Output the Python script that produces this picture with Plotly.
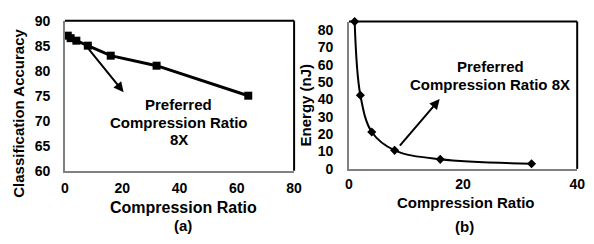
import plotly.graph_objects as go

# Data
ratio_a = [1, 2, 4, 8, 16, 32, 64]
accuracy = [87, 86.5, 86, 85, 83, 81, 75]
ratio_b = [1, 2, 4, 8, 16, 32]
energy = [85, 42.5, 21.3, 10.7, 5.5, 3.0]

xticks_a = [0, 20, 40, 60, 80]
yticks_a = [60, 65, 70, 75, 80, 85, 90]
xticks_b = [0, 20, 40]
yticks_b = [0, 10, 20, 30, 40, 50, 60, 70, 80]

# The page body has an 8px default margin, so the figure is drawn 8px smaller
OFF = 8
W, H = 594 - OFF, 244 - OFF
FONT = "Liberation Sans, Arial, sans-serif"

def px(x):
    return (x - OFF) / W

def py(y):
    return (H - (y - OFF)) / H

fig = go.Figure()
fig.add_trace(go.Scatter(x=ratio_a, y=accuracy, mode="lines+markers",
                         line=dict(color="black", width=3),
                         marker=dict(symbol="square", size=8, color="black"),
                         xaxis="x", yaxis="y", showlegend=False, cliponaxis=False))
fig.add_trace(go.Scatter(x=ratio_b, y=energy, mode="lines+markers",
                         line=dict(color="black", width=2, shape="spline", smoothing=1.0),
                         marker=dict(symbol="diamond", size=7, color="black"),
                         xaxis="x2", yaxis="y2", showlegend=False, cliponaxis=False))

tickfont = dict(family=FONT, size=14, color="black", weight="bold")
axis_common = dict(showgrid=False, zeroline=False, showline=True, linecolor="#808080",
                   linewidth=1.5, ticks="", mirror=False, ticklabeloverflow="allow",
                   tickfont=tickfont)

fig.update_layout(
    width=W, height=H, margin=dict(l=0, r=0, t=0, b=0),
    paper_bgcolor="white", plot_bgcolor="white",
    xaxis=dict(domain=[px(62), px(296)], range=[0, 80], tickvals=xticks_a,
               anchor="y", ticklabelstandoff=4, **axis_common),
    yaxis=dict(domain=[py(174), py(13)], range=[60, 90], tickvals=yticks_a,
               anchor="x", ticklabelstandoff=10, **axis_common),
    xaxis2=dict(domain=[px(352), px(585)], range=[0, 40], tickvals=xticks_b,
                anchor="y2", ticklabelstandoff=2, **axis_common),
    yaxis2=dict(domain=[py(172), py(14)], range=[0, 85], tickvals=yticks_b,
                anchor="x2", ticklabelstandoff=11, **axis_common),
)

# Black top/right frame lines
for xa, ya in (("x", "y"), ("x2", "y2")):
    fig.add_shape(type="line", xref=f"{xa} domain", yref=f"{ya} domain",
                  x0=0, x1=1, y0=1, y1=1, line=dict(color="black", width=2))
    fig.add_shape(type="line", xref=f"{xa} domain", yref=f"{ya} domain",
                  x0=1, x1=1, y0=0, y1=1, line=dict(color="black", width=2))

f15 = dict(family=FONT, size=15, color="black", weight="bold")
f16 = dict(family=FONT, size=16, color="black", weight="bold")

def label(x, y, text, font, angle=0):
    return dict(x=px(x), y=py(y), xref="paper", yref="paper", showarrow=False,
                xanchor="center", yanchor="middle", text=text, font=font,
                textangle=angle, align="center")

annotations = [
    # Arrows
    dict(x=20.5, y=75.7, ax=7.9, ay=84.6, xref="x", yref="y", axref="x", ayref="y",
         showarrow=True, arrowhead=2, arrowsize=1, arrowwidth=2, arrowcolor="black", text=""),
    dict(x=15.9, y=40.3, ax=8.7, ay=12.5, xref="x2", yref="y2", axref="x2", ayref="y2",
         showarrow=True, arrowhead=2, arrowsize=1, arrowwidth=2, arrowcolor="black", text=""),
    # Texts
    label(178, 103, "Preferred", f15),
    label(178, 122, "Compression Ratio", f15),
    label(178, 140, "8X", f15),
    label(496, 62, "Preferred", f15),
    label(496, 82, "Compression Ratio 8X", f15),
    # Axis titles
    label(15, 112, "Classification Accuracy", f15, -90),
    label(183, 213, "Compression Ratio", f16),
    label(183, 233, "(a)", f15),
    label(308, 103, "Energy (nJ)", f15, -90),
    label(471, 208, "Compression Ratio", f15),
    label(470, 234, "(b)", f15),
]
fig.update_layout(annotations=annotations)

fig.write_html("out.html")
